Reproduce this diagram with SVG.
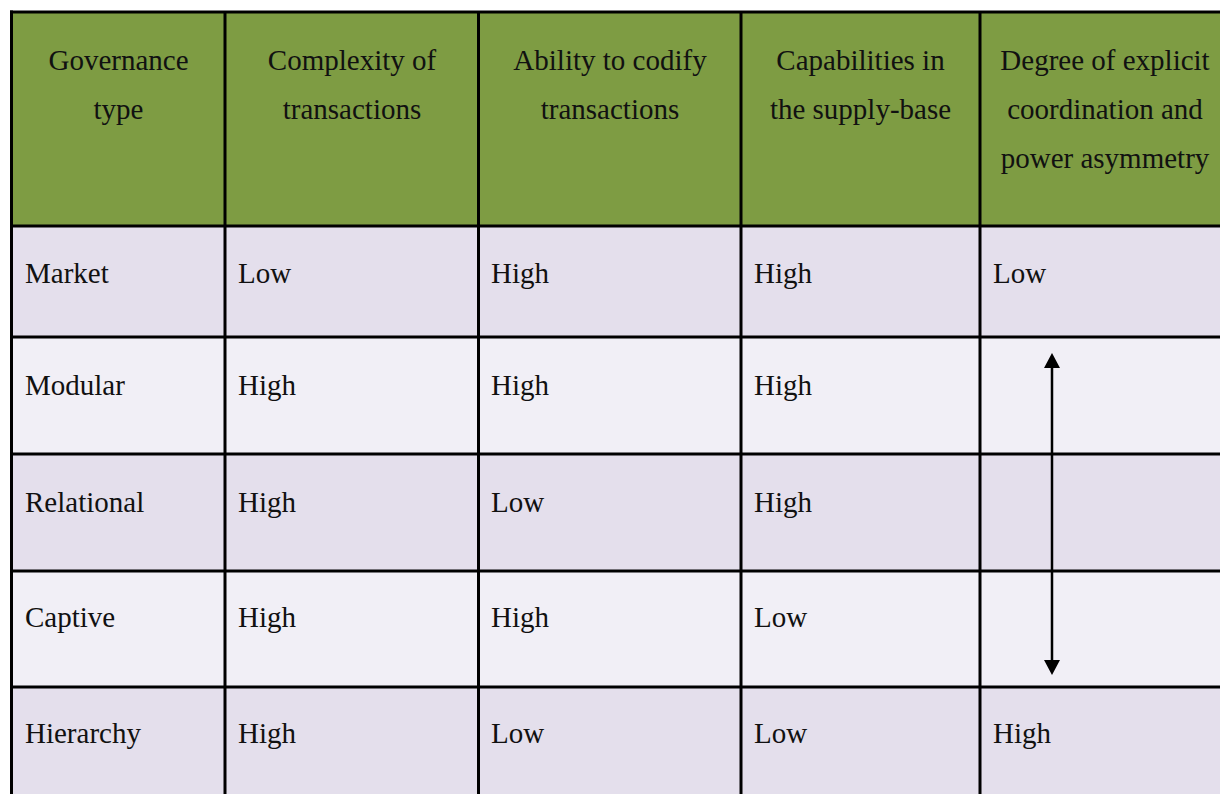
<svg xmlns="http://www.w3.org/2000/svg" width="1220" height="794" viewBox="0 0 1220 794">
<style>
text{font-family:"Liberation Serif","Times New Roman",serif;font-size:29px;fill:#111}
.h{text-anchor:middle}
.g{fill:#7E9C43}
.a{fill:#E4DFEC}
.b{fill:#F1EFF6}
.ln{stroke:#000;stroke-width:3;fill:none}
.arr{stroke:#000;stroke-width:2.5;fill:none}
</style>
<defs>
<marker id="head" viewBox="0 0 15 16" markerUnits="userSpaceOnUse" markerWidth="15" markerHeight="16" refX="0" refY="8" orient="auto-start-reverse">
<path d="M0,0 L15,8 L0,16 z" fill="#000"/>
</marker>
</defs>
<rect width="1220" height="794" fill="#fff"/>
<g id="header">
<rect class="g" x="12" y="12" width="1208" height="214"/>
<text class="h" x="118.5" y="70">Governance</text>
<text class="h" x="118.5" y="119">type</text>
<text class="h" x="352" y="70">Complexity of</text>
<text class="h" x="352" y="119">transactions</text>
<text class="h" x="610" y="70">Ability to codify</text>
<text class="h" x="610" y="119">transactions</text>
<text class="h" x="860.5" y="70">Capabilities in</text>
<text class="h" x="860.5" y="119">the supply-base</text>
<text class="h" x="1105" y="70">Degree of explicit</text>
<text class="h" x="1105" y="119">coordination and</text>
<text class="h" x="1105" y="168">power asymmetry</text>
</g>
<g id="row-market">
<rect class="a" x="12" y="226" width="1208" height="111"/>
<text x="25" y="283">Market</text>
<text x="238" y="283">Low</text>
<text x="491" y="283">High</text>
<text x="754" y="283">High</text>
<text x="993" y="283">Low</text>
</g>
<g id="row-modular">
<rect class="b" x="12" y="337" width="1208" height="117"/>
<text x="25" y="395">Modular</text>
<text x="238" y="395">High</text>
<text x="491" y="395">High</text>
<text x="754" y="395">High</text>
</g>
<g id="row-relational">
<rect class="a" x="12" y="454" width="1208" height="117"/>
<text x="25" y="512">Relational</text>
<text x="238" y="512">High</text>
<text x="491" y="512">Low</text>
<text x="754" y="512">High</text>
</g>
<g id="row-captive">
<rect class="b" x="12" y="571" width="1208" height="116"/>
<text x="25" y="627">Captive</text>
<text x="238" y="627">High</text>
<text x="491" y="627">High</text>
<text x="754" y="627">Low</text>
</g>
<g id="row-hierarchy">
<rect class="a" x="12" y="687" width="1208" height="107"/>
<text x="25" y="743">Hierarchy</text>
<text x="238" y="743">High</text>
<text x="491" y="743">Low</text>
<text x="754" y="743">Low</text>
<text x="993" y="743">High</text>
</g>
<g id="grid">
<path class="ln" d="M10,12 H1220 M10,226 H1220 M10,337 H1220 M10,454 H1220 M10,571 H1220 M10,687 H1220"/>
<path class="ln" d="M11.5,10.5 V794 M225,12 V794 M478.5,12 V794 M741,12 V794 M980,12 V794"/>
</g>
<g id="connectors">
<path class="arr" d="M1052,368 V660" marker-start="url(#head)" marker-end="url(#head)"/>
</g>
</svg>
